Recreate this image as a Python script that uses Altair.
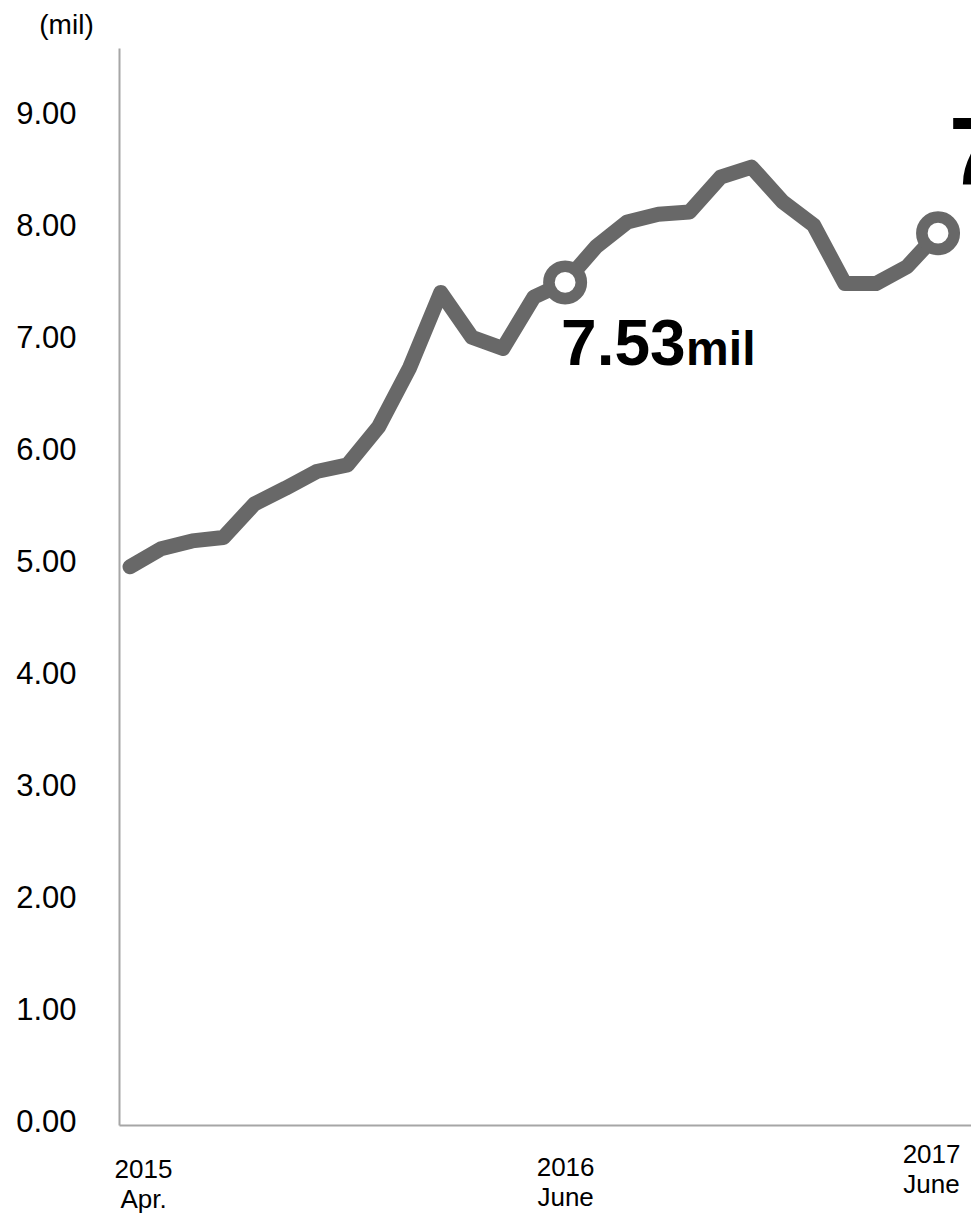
import altair as alt
import pandas as pd

# Monthly totals in millions, April 2015 through June 2017
month_index = list(range(27))
subscribers = [
    4.99, 5.15, 5.22, 5.25, 5.55, 5.69, 5.84, 5.90, 6.24, 6.77,
    7.44, 7.04, 6.94, 7.40, 7.53, 7.85, 8.07, 8.14, 8.16, 8.47,
    8.56, 8.25, 8.04, 7.52, 7.52, 7.67, 7.97,
]

# Months called out with a ring marker and a big value label
highlight_index = [14, 26]

# Category labels shown under the time axis
tick_index = [0, 14, 26]
tick_lines = [["2015", "Apr."], ["2016", "June"], ["2017", "June"]]

# Value axis ticks
y_ticks = [0, 1, 2, 3, 4, 5, 6, 7, 8, 9]

GRAY = "#686868"
AXIS_GRAY = "#a6a6a6"
FONT = "Liberation Sans"

df = pd.DataFrame({"month": month_index, "value": subscribers})

label_expr = ""
for idx, lines in zip(tick_index, tick_lines):
    arr = "[" + ",".join(f"'{s}'" for s in lines) + "]"
    label_expr += f"datum.value == {idx} ? {arr} : "
label_expr += "''"

x_axis = alt.Axis(
    values=tick_index,
    labelExpr=label_expr,
    labelFont=FONT,
    labelFontSize=26,
    labelColor="#000000",
    labelLineHeight=30,
    labelFlush=False,
    labelOverlap=False,
    labelOffset={
        "condition": [
            {"test": f"datum.value == {tick_index[0]}", "value": 13},
            {"test": f"datum.value == {tick_index[2]}", "value": -7},
        ],
        "value": 0,
    },
    labelPadding={
        "condition": [
            {"test": f"datum.value == {tick_index[0]}", "value": 31},
            {"test": f"datum.value == {tick_index[2]}", "value": 16},
        ],
        "value": 29,
    },
    ticks=False,
    grid=False,
    domainColor=AXIS_GRAY,
    domainWidth=2,
    title=None,
)

y_axis = alt.Axis(
    values=y_ticks,
    format=".2f",
    labelFont=FONT,
    labelFontSize=31,
    labelColor="#000000",
    labelPadding=43,
    labelOffset=-3,
    labelFlush=False,
    ticks=False,
    grid=False,
    domainColor=AXIS_GRAY,
    domainWidth=2,
    title="(mil)",
    titleFont=FONT,
    titleFontSize=28,
    titleFontWeight="normal",
    titleColor="#000000",
    titleAngle=0,
    titleAlign="center",
    titleBaseline="alphabetic",
    titleX=-53,
    titleY=-15,
)

x_enc = alt.X("month:Q", scale=alt.Scale(domain=[-0.355, 27.06], nice=False, zero=False), axis=x_axis)
y_enc = alt.Y("value:Q", scale=alt.Scale(domain=[0, 9.625], nice=False), axis=y_axis)

base = alt.Chart(df).encode(x=x_enc, y=y_enc)

line = base.mark_line(
    color=GRAY, strokeWidth=15, strokeCap="round", strokeJoin="round"
)

hl_test = alt.FieldOneOfPredicate(field="month", oneOf=highlight_index)
rings = base.transform_filter(hl_test).mark_circle(
    fill="white", stroke=GRAY, strokeWidth=11.6, size=1050, opacity=1
)


def value_label(month, num_size, unit_size, dx, dy):
    sel = base.transform_filter(alt.datum.month == month)
    num = sel.mark_text(
        font=FONT, fontSize=num_size, fontWeight="bold", color="#000000",
        align="left", baseline="alphabetic", dx=dx, dy=dy,
    ).encode(text=alt.Text("value:Q", format=".2f"))
    unit = sel.mark_text(
        font=FONT, fontSize=unit_size, fontWeight="bold", color="#000000",
        align="left", baseline="alphabetic",
        dx=dx + round(1.946 * num_size), dy=dy,
    ).encode(text=alt.value("mil"))
    return num + unit


labels_a = value_label(highlight_index[0], 64, 48, -4, 83)
labels_b = value_label(highlight_index[1], 97, 73, 11, -48)

chart = (
    alt.layer(line, rings, labels_a, labels_b)
    .properties(
        width=852,
        height=1077,
        autosize=alt.AutoSizeParams(type="none"),
        padding={"left": 119, "top": 48, "right": 0, "bottom": 89},
        background="white",
    )
    .configure_view(strokeWidth=0)
)

chart.save("out.html", embed_options={"renderer": "svg", "actions": False})
